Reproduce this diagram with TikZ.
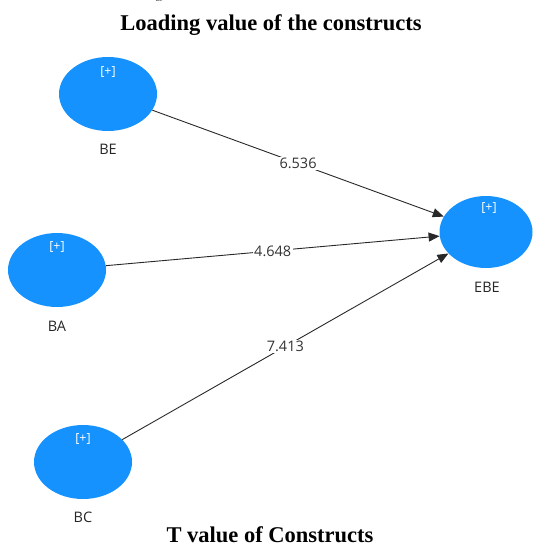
\documentclass[tikz,border=0pt]{standalone}
\usepackage{fontspec}
\setmainfont{Liberation Serif}
\newfontfamily\lblfont{Open Sans}
\usetikzlibrary{shapes.geometric,arrows.meta}
\definecolor{lvblue}{RGB}{22,146,255}
\definecolor{edgegray}{RGB}{40,40,40}
\tikzset{
  construct/.style={ellipse, fill=lvblue, minimum width=98pt, minimum height=74pt, inner sep=0pt},
  plus/.style={text=white, font=\lblfont\fontsize{12.5}{13}\selectfont, inner sep=0pt},
  cname/.style={font=\lblfont\fontsize{14.5}{15}\selectfont, text=black!85, inner sep=0pt},
  path/.style={draw=edgegray, line width=0.9pt, -{Triangle[length=11pt,width=9pt]}},
  weight/.style={fill=white, font=\lblfont\fontsize{14.5}{15}\selectfont, text=black!80, inner sep=1.5pt, pos=0.5},
  title/.style={font=\bfseries\fontsize{22.5}{24}\selectfont, inner sep=0pt, anchor=base}
}
\begin{document}
\begin{tikzpicture}[x=1pt,y=-1pt]
\useasboundingbox (0,0) rectangle (533,546);
\node[font=\lblfont\fontsize{5}{5}\selectfont, inner sep=0pt] (tiny) at (159,-0.5) {BC};
\node[title] (t1) at (271,30) {Loading value of the constructs};
\node[title] (t2) at (270,542) {T value of Constructs};

\node[construct] (BE) at (108,94) {};
\node[construct] (BA) at (57,270) {};
\node[construct] (BC) at (83,462) {};
\node[construct, minimum width=93pt, minimum height=72pt] (EBE) at (486,232) {};

\node[plus] (pBE) at (108,72) {[+]};
\node[plus] (pBA) at (57,247) {[+]};
\node[plus] (pBC) at (83,439) {[+]};
\node[plus] (pEBE) at (489,208) {[+]};

\node[cname] (lBE) at (108,149) {BE};
\node[cname] (lBA) at (57,326) {BA};
\node[cname] (lBC) at (83,517) {BC};
\node[cname] (lEBE) at (487,287) {EBE};

\draw[path] (BE) -- node[weight] (w1) {6.536} (EBE);
\draw[path] (BA) -- node[weight] (w2) {4.648} (EBE);
\draw[path] (BC) -- node[weight] (w3) {7.413} (EBE);
\end{tikzpicture}
\end{document}
